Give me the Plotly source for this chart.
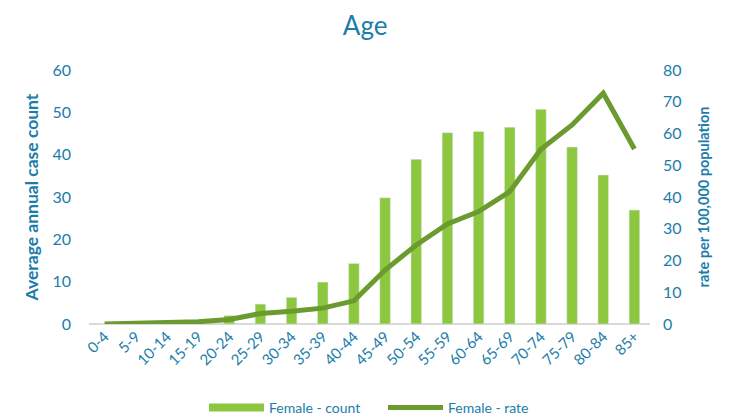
import plotly.graph_objects as go

categories = ["0-4", "5-9", "10-14", "15-19", "20-24", "25-29", "30-34", "35-39", "40-44",
              "45-49", "50-54", "55-59", "60-64", "65-69", "70-74", "75-79", "80-84", "85+"]
female_count = [0, 0, 0, 0.3, 2, 4.7, 6.3, 9.9, 14.3, 29.8, 38.9, 45.2, 45.5, 46.5, 50.7, 41.8, 35.2, 26.9]
female_rate = [0, 0.2, 0.3, 0.7, 1.4, 3.3, 4, 5, 7.3, 17, 24.9, 31.5, 35.4, 41.7, 55, 62.7, 72.7, 55.1]

blue = "#1B7DAA"
bar_green = "#8DC63F"
line_green = "#6B9A2E"
font_family = "Lato, 'Open Sans', sans-serif"

fig = go.Figure()
fig.add_trace(go.Bar(x=categories, y=female_count, name="Female - count",
                     marker_color=bar_green, yaxis="y", showlegend=False))
fig.add_trace(go.Scatter(x=categories, y=female_rate, name="Female - rate", mode="lines",
                         line=dict(color=line_green, width=5), yaxis="y2", showlegend=False))
# legend entries (wide swatches as in the reference)
fig.add_trace(go.Scatter(x=[None], y=[None], name="Female - count", mode="lines",
                         line=dict(color=bar_green, width=8), yaxis="y"))
fig.add_trace(go.Scatter(x=[None], y=[None], name="Female - rate", mode="lines",
                         line=dict(color=line_green, width=5), yaxis="y2"))

fig.update_layout(
    width=723, height=417,
    margin=dict(l=81, r=81, t=62, b=101),
    paper_bgcolor="white", plot_bgcolor="white",
    font=dict(family=font_family, color=blue, size=14),
    title=dict(text="Age", x=0.494, xref="container", xanchor="center",
               y=0.957, yref="container", yanchor="middle",
               font=dict(size=26, color=blue, family=font_family)),
    bargap=0.66,
    showlegend=True,
    legend=dict(orientation="h", x=0.205, xanchor="left",
                y=0.041, yref="container", yanchor="middle",
                font=dict(size=14, color=blue), traceorder="normal",
                itemwidth=55, entrywidth=109, entrywidthmode="pixels"),
    xaxis=dict(tickangle=-45, showgrid=False, showline=False, ticks="",
               tickfont=dict(size=15, color=blue)),
    yaxis=dict(range=[0, 60], dtick=10, showgrid=False, zeroline=True,
               zerolinecolor="#D9D9D9", zerolinewidth=2, ticklabelstandoff=17,
               tickfont=dict(size=16, color=blue),
               title=dict(text="<b>Average annual case count</b>", font=dict(size=17.5, color=blue),
                          standoff=9)),
    yaxis2=dict(range=[0, 80], dtick=10, overlaying="y", side="right", showgrid=False,
                zeroline=False, tickfont=dict(size=16, color=blue), ticklabelstandoff=12,
                title=dict(text="<b>rate per 100,000 population</b>", font=dict(size=14.5, color=blue),
                           standoff=18)),
)

fig.write_html("out.html")
